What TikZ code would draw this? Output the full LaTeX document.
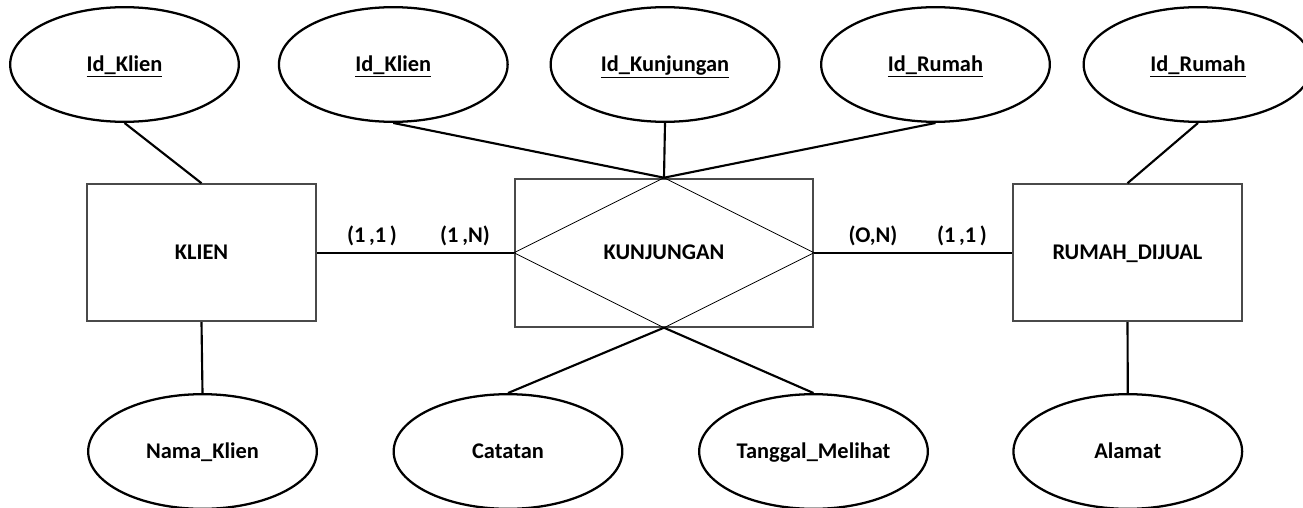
\documentclass[tikz,border=0pt]{standalone}
\usepackage{fontspec}
\setmainfont{Carlito}
\usetikzlibrary{shapes.geometric}
\definecolor{boxgray}{HTML}{4A4A4A}
\begin{document}
\begin{tikzpicture}[x=0.75pt,y=-0.75pt,
  every node/.style={font=\fontsize{16.8}{20}\selectfont\bfseries,
    text height=12.8pt, text depth=2pt},
  attr/.style={ellipse, draw=black, line width=1.7pt, inner sep=0pt,
    minimum width=171.5pt, minimum height=86pt},
  entity/.style={rectangle, draw=boxgray, line width=1.5pt, inner sep=0pt,
    minimum width=171.75pt, minimum height=102.75pt},
  relbox/.style={rectangle, draw=boxgray, line width=1.5pt, inner sep=0pt,
    minimum width=223.5pt, minimum height=111pt},
  link/.style={draw=black, line width=1.6pt},
  card/.style={inner sep=0pt}]
\useasboundingbox (0,0) rectangle (1303,507);

% entities and relationship
\node[entity] (klien) at (201.5,252.7) {KLIEN};
\node[relbox] (kunj) at (664,252.7) {KUNJUNGAN};
\node[entity] (rumah) at (1127.5,252.7) {RUMAH\_DIJUAL};
\draw[line width=0.6pt] (kunj.north) -- (kunj.east) -- (kunj.south) -- (kunj.west) -- cycle;

% key attributes
\node[attr] (idk1) at (124.5,64.5) {\underline{Id\_Klien}};
\node[attr] (idk2) at (393.3,64.5) {\underline{Id\_Klien}};
\node[attr] (idkj) at (665,64.5) {\underline{Id\_Kunjungan}};
\node[attr] (idr1) at (935.5,64.5) {\underline{Id\_Rumah}};
\node[attr] (idr2) at (1198,64.5) {\underline{Id\_Rumah}};

% other attributes
\node[attr] (nama) at (202.5,451.5) {Nama\_Klien};
\node[attr] (catatan) at (508,451.5) {Catatan};
\node[attr] (tanggal) at (813.5,451.5) {Tanggal\_Melihat};
\node[attr] (alamat) at (1127.8,451.5) {Alamat};

% attribute links
\draw[link] (idk1.south) -- (klien.north);
\draw[link] (idk2.south) -- (kunj.north);
\draw[link] (idkj.south) -- (kunj.north);
\draw[link] (idr1.south) -- (kunj.north);
\draw[link] (idr2.south) -- (rumah.north);
\draw[link] (klien.south) -- (nama.north);
\draw[link] (kunj.south) -- (catatan.north);
\draw[link] (kunj.south) -- (tanggal.north);
\draw[link] (rumah.south) -- (alamat.north);

% relationship links
\draw[link] (klien.east) -- (kunj.west);
\draw[link] (kunj.east) -- (rumah.west);

% cardinalities
\node[card] (c1) at (372,235) {(1\,,1\,)};
\node[card] (c2) at (465,235) {(1\,,N)};
\node[card] (c3) at (873,235) {(O,N)};
\node[card] (c4) at (962,235) {(1\,,1\,)};
\end{tikzpicture}
\end{document}
